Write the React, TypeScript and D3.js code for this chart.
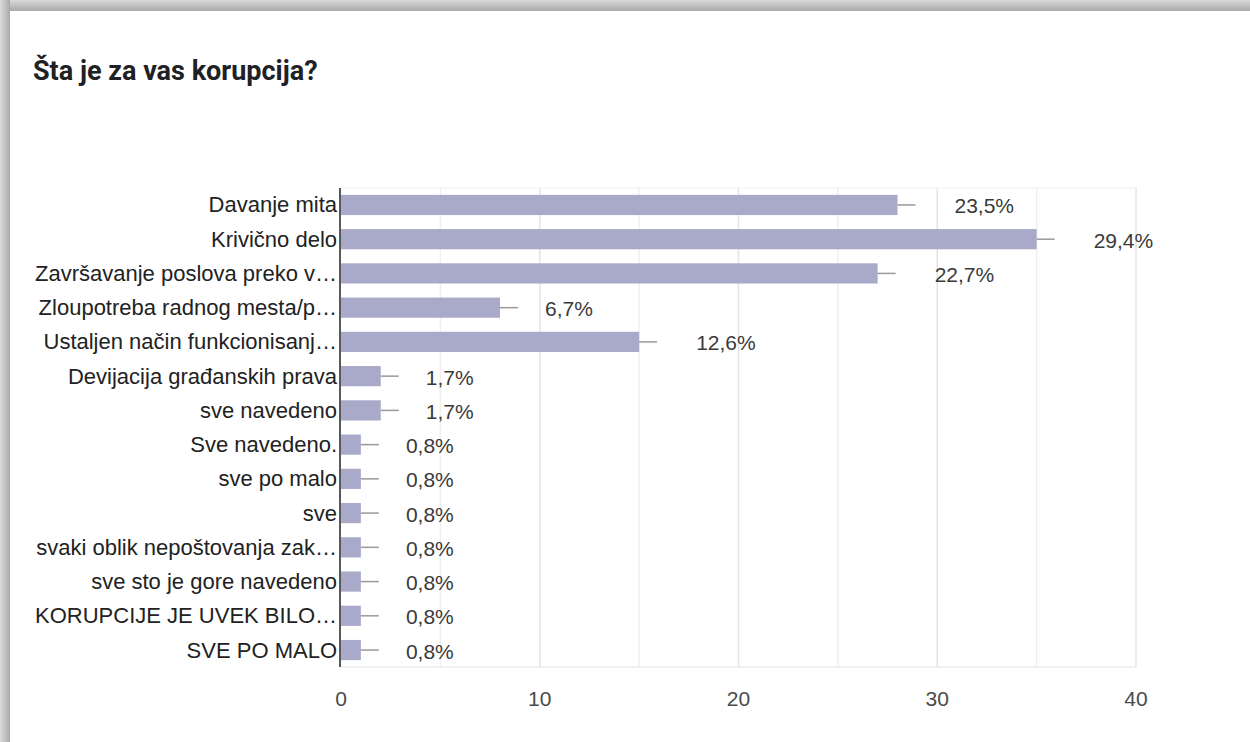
import React from "react";
import * as d3 from "d3";

const title = "Šta je za vas korupcija?";
const categories = [
  "Davanje mita",
  "Krivično delo",
  "Završavanje poslova preko v…",
  "Zloupotreba radnog mesta/p…",
  "Ustaljen način funkcionisanj…",
  "Devijacija građanskih prava",
  "sve navedeno",
  "Sve navedeno.",
  "sve po malo",
  "sve",
  "svaki oblik nepoštovanja zak…",
  "sve sto je gore navedeno",
  "KORUPCIJE JE UVEK BILO…",
  "SVE PO MALO",
];
const counts = [28, 35, 27, 8, 15, 2, 2, 1, 1, 1, 1, 1, 1, 1];
const percentLabels = [
  "23,5%", "29,4%", "22,7%", "6,7%", "12,6%", "1,7%", "1,7%",
  "0,8%", "0,8%", "0,8%", "0,8%", "0,8%", "0,8%", "0,8%",
];
const xTicks = [0, 10, 20, 30, 40];
const gridTicks = [5, 10, 15, 20, 25, 30, 35, 40];

const W = 1250;
const H = 742;
const plot = { left: 341, right: 1136, top: 188, bottom: 667 };
const FONT = "'Liberation Sans', Arial, sans-serif";

export default function App() {
  const x = d3.scaleLinear().domain([0, 40]).range([plot.left, plot.right]);
  const y = d3
    .scaleBand<string>()
    .domain(categories)
    .range([plot.top, plot.bottom])
    .paddingInner(0.41)
    .paddingOuter(0.2);
  const bw = y.bandwidth();
  const leader = 18;

  return (
    <svg
      width={W}
      height={H}
      style={{ position: "absolute", left: 0, top: 0, display: "block" }}
    >
      <defs>
        <linearGradient id="topShade" x1="0" y1="0" x2="0" y2="1">
          <stop offset="0" stopColor="#d8d8d8" />
          <stop offset="1" stopColor="#a9a9a9" />
        </linearGradient>
        <linearGradient id="leftShade" x1="0" y1="0" x2="1" y2="0">
          <stop offset="0" stopColor="#dcdcdc" />
          <stop offset="1" stopColor="#a9a9a9" />
        </linearGradient>
      </defs>
      <rect x={0} y={0} width={W} height={H} fill="#ffffff" />
      <rect x={0} y={0} width={W} height={11} fill="url(#topShade)" />
      <rect x={0} y={0} width={10} height={H} fill="url(#leftShade)" />

      <text
        x={33}
        y={80}
        fontFamily="Roboto, 'Noto Sans', sans-serif"
        fontWeight={700}
        fontSize={27}
        fill="#202124"
      >
        {title}
      </text>

      {/* gridlines */}
      {gridTicks.map((t) => (
        <line
          key={"g" + t}
          x1={x(t)}
          x2={x(t)}
          y1={plot.top}
          y2={plot.bottom}
          stroke={t % 10 === 0 ? "#e4e4e4" : "#efefef"}
          strokeWidth={1.5}
        />
      ))}
      <line
        x1={plot.left}
        x2={plot.right}
        y1={plot.top}
        y2={plot.top}
        stroke="#f0f0f0"
        strokeWidth={1}
      />
      <line
        x1={plot.left}
        x2={plot.right}
        y1={plot.bottom}
        y2={plot.bottom}
        stroke="#ececec"
        strokeWidth={1.5}
      />

      {/* bars */}
      {categories.map((c, i) => {
        const y0 = y(c)!;
        const cy = y0 + bw / 2;
        const xe = x(counts[i]);
        const gap = 27 + (percentLabels[i].length - 4) * 12;
        return (
          <g key={c}>
            <rect
              x={x(0)}
              y={y0}
              width={xe - x(0)}
              height={bw}
              fill="#a9aac9"
            />
            <line
              x1={xe}
              x2={xe + leader}
              y1={cy}
              y2={cy}
              stroke="#9a9a9a"
              strokeWidth={1.5}
            />
            <text
              x={xe + leader + gap}
              y={cy + 1}
              dominantBaseline="central"
              fontFamily={FONT}
              fontSize={21}
              fill="#3a3a3a"
            >
              {percentLabels[i]}
            </text>
            <text
              x={plot.left - 4}
              y={cy}
              textAnchor="end"
              dominantBaseline="central"
              fontFamily={FONT}
              fontSize={22}
              fill="#222222"
            >
              {c}
            </text>
          </g>
        );
      })}

      {/* axis baseline */}
      <line
        x1={plot.left - 1}
        x2={plot.left - 1}
        y1={plot.top}
        y2={plot.bottom}
        stroke="#222222"
        strokeWidth={1.5}
      />

      {xTicks.map((t) => (
        <text
          key={"t" + t}
          x={x(t)}
          y={698}
          textAnchor="middle"
          dominantBaseline="central"
          fontFamily={FONT}
          fontSize={21}
          fill="#4a4a4a"
        >
          {t}
        </text>
      ))}
    </svg>
  );
}
